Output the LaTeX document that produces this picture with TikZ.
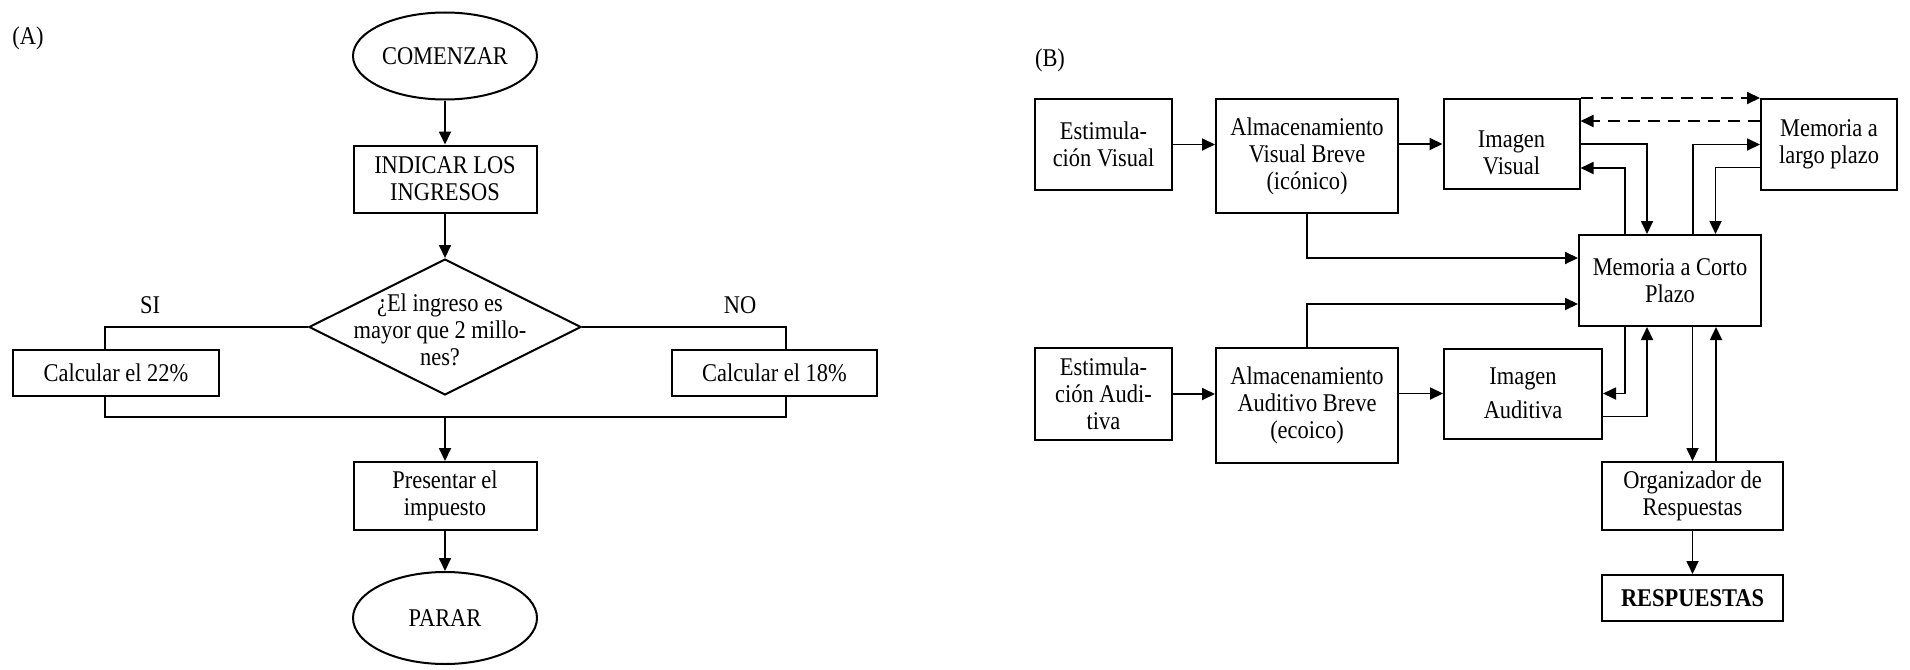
\documentclass[tikz,border=0pt]{standalone}
\usepackage{fontspec}
\setmainfont{Liberation Serif}[FakeStretch=0.88]
\usetikzlibrary{shapes.geometric,arrows.meta}
\begin{document}
\begin{tikzpicture}[x=1pt,y=-1pt,
  font=\fontsize{25.5}{27}\selectfont,
  box/.style={draw,line width=2pt,rectangle,inner sep=0pt,align=center},
  oval/.style={draw,line width=2pt,ellipse,inner sep=0pt,align=center},
  conn/.style={line width=1.8pt},
  arr/.style={conn,-{Triangle[length=13pt,width=12pt]}},
  dasharr/.style={arr,dash pattern=on 12pt off 8pt}]
\useasboundingbox (0,0) rectangle (1910,669);

% ---------- Panel A ----------
\node (lblA) at (28,38) {(A)};
\node[oval,minimum width=184pt,minimum height=87pt] (com) at (445,56) {COMENZAR};
\node[box,minimum width=183pt,minimum height=67pt] (ind) at (445,179) {INDICAR LOS\\INGRESOS};
\node[draw,line width=2pt,diamond,inner sep=0pt,minimum width=272pt,minimum height=136pt] (dec) at (445,327) {};
\node[align=center] (dectext) at (440,330) {¿El ingreso es\\mayor que 2 millo-\\nes?};
\node (si) at (150,305) {SI};
\node (no) at (740,305) {NO};
\node[box,minimum width=206pt,minimum height=46pt] (c22) at (116,373) {Calcular el 22\%};
\node[box,minimum width=205pt,minimum height=46pt] (c18) at (774.5,373) {Calcular el 18\%};
\node[box,minimum width=183pt,minimum height=68pt] (pres) at (445,496) {Presentar el\\impuesto};
\node[oval,minimum width=184pt,minimum height=92pt] (par) at (445,618) {PARAR};
\coordinate (merge) at (445,417);

\draw[arr] (com) -- (ind);
\draw[arr] (ind) -- (dec);
\draw[conn] (dec.west) -| ([xshift=-11pt]c22.north);
\draw[conn] (dec.east) -| ([xshift=11.5pt]c18.north);
\draw[conn] ([xshift=-11pt]c22.south) |- (merge) -| ([xshift=11.5pt]c18.south);
\draw[arr] (merge) -- (pres);
\draw[arr] (pres) -- (par);

% ---------- Panel B ----------
\node (lblB) at (1050,60) {(B)};
\node[box,minimum width=137pt,minimum height=91pt] (ev) at (1103.5,144.5) {Estimula-\\ción Visual};
\node[box,minimum width=182pt,minimum height=114pt] (asv) at (1307,156) {Almacenamiento\\Visual Breve\\(icónico)};
\node[box,minimum width=136pt,minimum height=90pt,label={[align=center,yshift=-8.5pt]center:Imagen\\Visual}] (iv) at (1511.5,144) {};
\node[box,minimum width=136pt,minimum height=91pt] (mlp) at (1829,144.5) {Memoria a\\largo plazo};
\node[box,minimum width=182pt,minimum height=91pt] (mcp) at (1670,280.5) {Memoria a Corto\\Plazo};
\node[box,minimum width=137pt,minimum height=92pt] (ea) at (1103.5,394) {Estimula-\\ción Audi-\\tiva};
\node[box,minimum width=182pt,minimum height=115pt] (aab) at (1307,405.5) {Almacenamiento\\Auditivo Breve\\(ecoico)};
\node[box,minimum width=158pt,minimum height=90pt] (ia) at (1523,393.5) {Imagen\\[7pt]Auditiva};
\node[box,minimum width=181pt,minimum height=68pt] (org) at (1692.5,496) {Organizador de\\Respuestas};
\node[box,minimum width=181pt,minimum height=46pt] (resp) at (1692.5,598) {\textbf{RESPUESTAS}};

\draw[arr] (ev.east) -- (ev.east -| asv.west);
\draw[arr] (asv.east |- iv.west) -- (iv.west);
\draw[arr] (ea.east) -- (ea.east -| aab.west);
\draw[arr] (aab.east |- ia.west) -- (ia.west);

\draw[dasharr] (iv.north east) -- (mlp.north west);
\draw[dasharr] ([yshift=-23pt]mlp.north west) -- ([yshift=-23pt]mlp.north west -| iv.east);

\draw[arr] (iv.east) -| ([xshift=-23pt]mcp.north);
\draw[arr] ([xshift=-45pt]mcp.north) |- ([yshift=-24pt]iv.east);
\draw[arr] ([xshift=23pt]mcp.north) |- (mlp.west);
\draw[arr] ([yshift=-23pt]mlp.west) -| ([xshift=45.5pt]mcp.north);

\draw[arr] (asv.south) |- ([yshift=22.5pt]mcp.west);
\draw[arr] (aab.north) |- ([yshift=-23.5pt]mcp.west);

\draw[arr] ([xshift=-45pt]mcp.south) |- (ia.east);
\draw[arr] ([yshift=-23pt]ia.east) -| ([xshift=-23pt]mcp.south);

\draw[arr] (org.north |- mcp.south) -- (org.north);
\draw[arr] ([xshift=23.5pt]org.north) -- ([xshift=23.5pt]org.north |- mcp.south);
\draw[arr] (org.south) -- (resp.north);
\end{tikzpicture}
\end{document}
